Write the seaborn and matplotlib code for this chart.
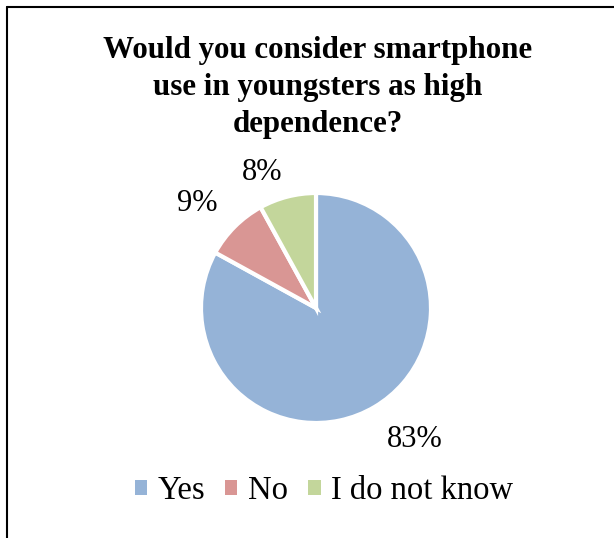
import matplotlib
matplotlib.use("Agg")
import matplotlib.pyplot as plt
import seaborn as sns
from matplotlib.lines import Line2D
from matplotlib.patches import Patch

categories = ["Yes", "No", "I do not know"]
values = [83, 9, 8]
colors = ["#95B3D7", "#D99694", "#C3D69B"]
title = "Would you consider smartphone\nuse in youngsters as high\ndependence?"

sns.set_theme(style="white")
plt.rcParams['font.family'] = ['Liberation Serif', 'DejaVu Serif']
plt.rcParams['text.color'] = 'black'

W, H = 614, 538
fig = plt.figure(figsize=(W / 100, H / 100), dpi=100)
fig.patch.set_facecolor("white")

cx, cy, r = 316, 308, 115
ax = fig.add_axes([(cx - r) / W, (H - cy - r) / H, 2 * r / W, 2 * r / H])
wedges, texts, autotexts = ax.pie(
    values, colors=colors, startangle=90, counterclock=False,
    autopct=lambda p: f"{p:.0f}%", pctdistance=1.38,
    wedgeprops=dict(edgecolor="white", linewidth=3),
    textprops=dict(fontsize=22, color="black"))
ax.set_xlim(-1, 1)
ax.set_ylim(-1, 1)
ax.set_aspect("equal")

# label placement (outside end, as in the original)
label_pos = [(0.857, -1.145), (-1.035, 0.91), (-0.47, 1.18)]
for t, (x, y) in zip(autotexts, label_pos):
    t.set_position((x, y))
    t.set_ha("center")
    t.set_va("center")

fig.text(cx / W + 2 / W, 1 - 36 / H, title, ha="center", va="top",
         fontsize=22.3, fontweight="bold", linespacing=1.36, color="black")

handles = [Patch(facecolor=c, edgecolor="none") for c in colors]
leg = fig.legend(handles, categories, loc="center", bbox_to_anchor=(324 / W, 1 - 491 / H),
                 ncol=3, frameon=False, fontsize=23.5, handlelength=0.37, handleheight=0.37,
                 handletextpad=0.33, columnspacing=0.62)
for t in leg.get_texts():
    t.set_color("black")

fig.add_artist(Line2D([7 / W, 7 / W], [0, 1 - 7 / H], color="black", lw=1.5,
                      transform=fig.transFigure))
fig.add_artist(Line2D([7 / W, 1], [1 - 7 / H, 1 - 7 / H], color="black", lw=1.5,
                      transform=fig.transFigure))

fig.savefig("out.png", dpi=100, facecolor="white")
